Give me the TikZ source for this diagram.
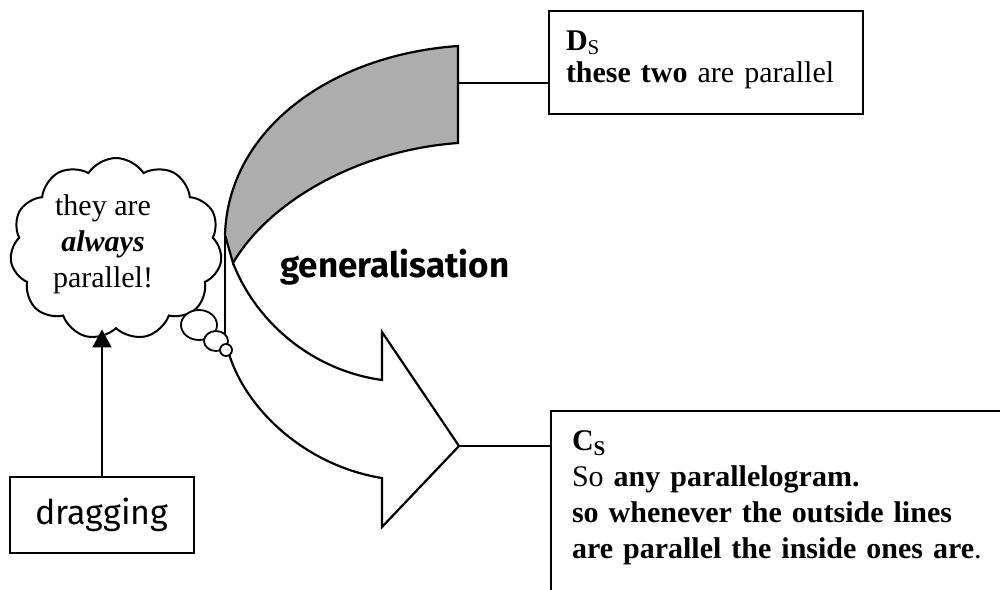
\documentclass[tikz,border=0pt]{standalone}
\usepackage{fontspec}
\setmainfont{Liberation Serif}
\newfontfamily\comicfont{Fira Sans}
\usetikzlibrary{shapes.symbols,arrows.meta}
\begin{document}
\begin{tikzpicture}[x=0.5pt,y=-0.5pt,
  arrowline/.style={line width=1.1pt, line join=miter},
  thinline/.style={line width=0.8pt},
  boxstyle/.style={draw, line width=1pt, rectangle},
  bubble/.style={draw, line width=0.9pt, fill=white}]
\useasboundingbox (0,0) rectangle (1000,589);

% curved arrow
\coordinate (dtail) at (458,83);
\coordinate (ctip) at (459,446);
\fill[black!32] (458,46) .. controls (330,55) and (228,130) .. (225,235) -- (233,263) .. controls (270,200) and (360,150) .. (458,143) -- cycle;
\draw[arrowline] (458,46) .. controls (330,55) and (228,130) .. (225,235) -- (233,263) .. controls (270,200) and (360,150) .. (458,143) -- cycle;
\draw[arrowline] (233,263) .. controls (255,320) and (310,370) .. (382,380) -- (382,332) -- (ctip) -- (382,527) -- (382,478) .. controls (300,465) and (235,400) .. (225,337);
\draw[thinline] (225,235) -- (225,337);

% thought cloud
\node[cloud, draw, line width=1pt, fill=white, cloud puffs=11, cloud puff arc=115, aspect=1.16, minimum width=106pt, minimum height=91pt, inner sep=0pt] (cloud) at (116,249) {};
\node[align=center, inner sep=0pt, font=\fontsize{15}{18}\selectfont] (thought) at (103,244) {they are\\\textbf{\textit{always}}\\parallel!};
\draw[bubble] (199,325) ellipse [x radius=18, y radius=15];
\draw[bubble] (216,341) ellipse [x radius=12, y radius=10];
\draw[bubble] (226,350) ellipse [x radius=6, y radius=6];

% label
\node[anchor=base west, inner sep=0pt, font=\comicfont\bfseries\fontsize{17.5}{20}\selectfont] (gen) at (280,277) {generalisation};

% dragging
\node[boxstyle, minimum width=92pt, minimum height=38pt, font=\comicfont\fontsize{17}{20}\selectfont] (drag) at (102,515) {dragging};
\draw[line width=1pt, -{Triangle[length=9pt,width=9.5pt]}] (drag.north) -- (drag.north |- cloud.south);

% D box
\node[boxstyle, anchor=north west, text width=140pt, inner xsep=8.5pt, inner ysep=10pt, align=left, font=\fontsize{15}{16}\selectfont, text depth=21.5pt] (dbox) at (548,10) {\textbf{D}\textsubscript{S}\\\textbf{these two} are parallel};
\draw[thinline] (dtail) -- (dtail -| dbox.west);

% C box
\node[boxstyle, anchor=north west, text width=240pt, inner xsep=10.5pt, inner ysep=10pt, align=left, font=\fontsize{15}{18}\selectfont, text depth=80pt] (cbox) at (550,410) {\textbf{C\textsubscript{S}}\\So \textbf{any parallelogram.}\\\textbf{so whenever the outside lines}\\\textbf{are parallel the inside ones are}.};
\draw[thinline] (ctip) -- (ctip -| cbox.west);
\end{tikzpicture}
\end{document}
